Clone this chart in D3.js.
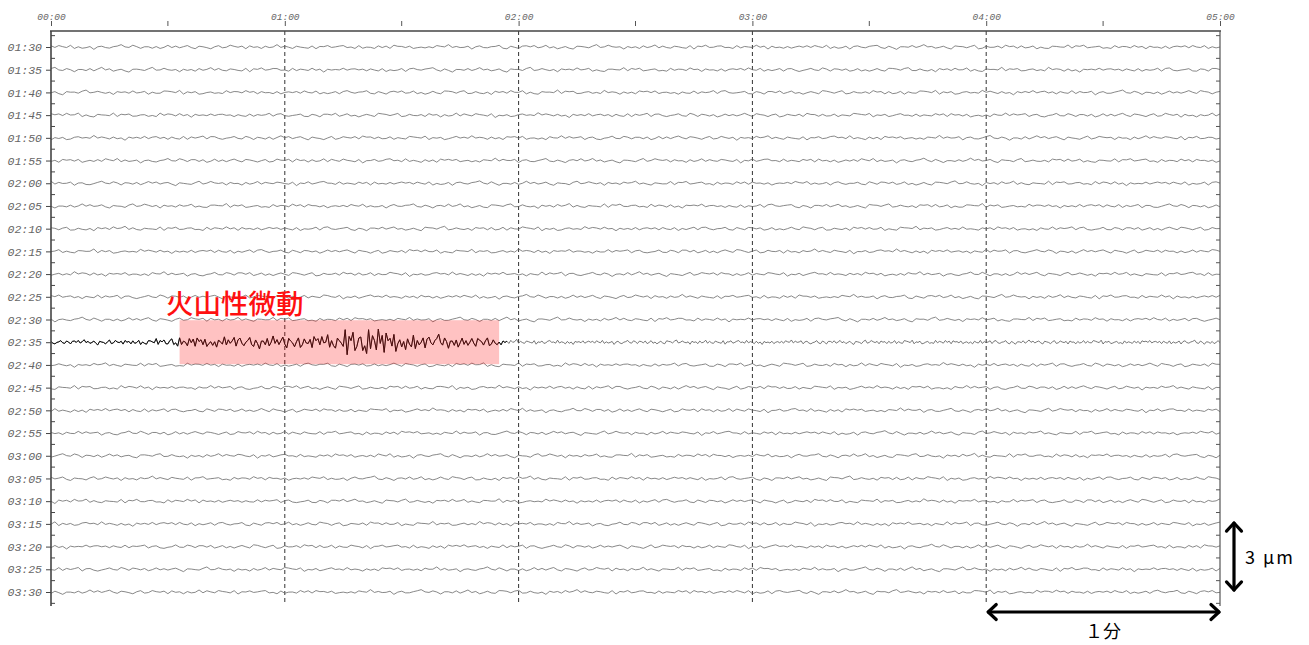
<!DOCTYPE html>
<html><head><meta charset="utf-8">
<script src="https://cdn.jsdelivr.net/npm/d3@7"></script>
<style>
html,body{margin:0;padding:0;background:#fff;}
svg{display:block;}
</style></head>
<body>
<svg id="chart" width="1309" height="645"></svg>
<script>
// ---- data ----
const rowLabels = ["01:30","01:35","01:40","01:45","01:50","01:55","02:00","02:05","02:10","02:15","02:20","02:25","02:30","02:35","02:40","02:45","02:50","02:55","03:00","03:05","03:10","03:15","03:20","03:25","03:30"];
const minuteTicks = [0,60,120,180,240,300];      // seconds
const minuteLabels = ["00:00","01:00","02:00","03:00","04:00","05:00"];
const halfTicks = [30,90,150,210,270];
const tremorRow = "02:35";
// hand-read wiggle patterns (units of noiseUnit μm)
const wiggleA = [1,-2,2,0,-1,3,-2,1,-1,0,2,-3,1,2,-1,-2,0,1,3,-1,-2,2,0,-3,1,1,-1,2,-2,0,3,-1,1,-2,0,2,-1,-3,2,1,0,-2,1,3,-2,-1,2,0,-1,1,-3,2,0,1,-2,2,-1,0,3,-2,1,-1,-2,2,1,0,-1,3,-3,1,0,2,-2,-1,1,2,-1,0,-2,3,-1,1,0,-2,2,-1,1,-3,2,0,1,-1,2,-2,0,1,-1];
const wiggleB = [2,1,0,-1,-2,-2,-1,0,1,2,2,1,-1,-2,-1,0,1,1,0,-1,-2,-1,1,2,1,0,-1,-1,0,2,1,-1,-2,-2,0,1,2,1,0,-1,-2,-1,0,1,2,0,-1,-2,-1,1,2,2,0,-1,-1,0,1,0,-2,-1,1];
const noiseUnit = 0.025; // μm
// tremor envelope, half amplitude in μm, per 5 s bin (0..300 s)
const tremorEnvelope = [0.1,0.11,0.12,0.12,0.14,0.16,0.28,0.3,0.3,0.29,0.3,0.31,0.32,0.34,0.42,0.7,0.8,0.65,0.45,0.36,0.3,0.26,0.24,0.13,0.1,0.1,0.1,0.1,0.1,0.1,0.1,0.1,0.1,0.1,0.1,0.1,0.1,0.1,0.1,0.1,0.1,0.1,0.1,0.1,0.1,0.1,0.1,0.1,0.1,0.1,0.1,0.1,0.1,0.1,0.1,0.1,0.1,0.1,0.1,0.1];
const tremorBox = {t0:33, t1:115};      // seconds
const tremorDarkEnd = 117;               // trace drawn dark up to here (s)
const tremorLabel = "火山性微動";
const scaleAmp = 3;  // μm
const scaleTimeLabel = "１分";
const scaleAmpLabel = "3 μm";

// ---- scales ----
const svg = d3.select("#chart");
const x = d3.scaleLinear().domain([0,300]).range([51,1220]);
const row = d3.scalePoint().domain(rowLabels).range([47,592]);
const amp = d3.scaleLinear().domain([0,3]).range([0,67]);
const step = row.step();

// traces
function traceData(r, label){
  const pts = [];
  if(label === tremorRow){
    for(let i=0;i<=600;i++){
      const t = i/2;
      const e = tremorEnvelope[Math.min(59,Math.floor(t/5))];
      const v = (wiggleA[(i+13)%wiggleA.length]/3*0.8 + wiggleB[(Math.floor(i/3)+5)%wiggleB.length]/2*0.2) * e;
      pts.push([t,v]);
    }
  } else {
    for(let i=0;i<=300;i++){
      const v = (wiggleA[(i+17*r)%wiggleA.length] + 0.6*wiggleB[(Math.floor(i/2)+23*r)%wiggleB.length]) * noiseUnit;
      pts.push([i,v]);
    }
  }
  return pts;
}

const grid = svg.append("g");
// dashed minute lines
grid.selectAll("line.dash").data(minuteTicks.slice(1,-1)).join("line")
  .attr("x1",d=>x(d)).attr("x2",d=>x(d)).attr("y1",31).attr("y2",605)
  .attr("stroke","#333").attr("stroke-width",1).attr("stroke-dasharray","4,3");

// traces
const line = d3.line().x(d=>x(d[0]));
svg.append("g").selectAll("path").data(rowLabels).join("path")
  .attr("d",(l,r)=>line.y(d=>row(l)-amp(d[1]))(traceData(r,l)))
  .attr("fill","none")
  .attr("stroke",l=>l===tremorRow?"#555":"#6a6a6a")
  .attr("stroke-width",0.8);
// dark part of tremor trace
const tIdx = rowLabels.indexOf(tremorRow);
svg.append("path")
  .attr("d",line.y(d=>row(tremorRow)-amp(d[1]))(traceData(tIdx,tremorRow).filter(d=>d[0]<=tremorDarkEnd)))
  .attr("fill","none").attr("stroke","#111").attr("stroke-width",1);

// tremor box (translucent)
svg.append("rect")
  .attr("x",x(tremorBox.t0)).attr("width",x(tremorBox.t1)-x(tremorBox.t0))
  .attr("y",row(tremorRow)-22).attr("height",44)
  .attr("fill","rgb(255,0,0)").attr("fill-opacity",0.24);
svg.append("text").attr("x",166).attr("y",314)
  .attr("font-family","'Noto Sans CJK JP'").attr("font-size",27.5).attr("font-weight",500)
  .attr("fill","#ff1010").text(tremorLabel);

// frame
svg.append("line").attr("x1",50).attr("x2",1221).attr("y1",31).attr("y2",31).attr("stroke","#444").attr("stroke-width",1.6);
svg.append("line").attr("x1",51).attr("x2",51).attr("y1",31).attr("y2",606).attr("stroke","#444").attr("stroke-width",1.6);
svg.append("line").attr("x1",1220).attr("x2",1220).attr("y1",31).attr("y2",606).attr("stroke","#555").attr("stroke-width",1.2);

// top axis
const topAxis = svg.append("g").attr("transform","translate(0,26)")
  .call(d3.axisTop(x).tickValues(minuteTicks).tickSize(5).tickFormat((d,i)=>minuteLabels[i]));
topAxis.select(".domain").remove();
topAxis.selectAll(".tick line").attr("stroke","#555");
topAxis.selectAll(".tick text").attr("y",-6).attr("font-family","'Liberation Mono', monospace").attr("font-style","italic").attr("font-size",9.5).attr("fill","#666");
svg.append("g").selectAll("line").data(halfTicks).join("line")
  .attr("x1",d=>x(d)).attr("x2",d=>x(d)).attr("y1",21).attr("y2",26).attr("stroke","#555");

// left axis
const leftAxis = svg.append("g").attr("transform","translate(51,0)")
  .call(d3.axisLeft(row).tickSize(5).tickPadding(4));
leftAxis.select(".domain").remove();
leftAxis.selectAll(".tick line").attr("stroke","#444");
leftAxis.selectAll(".tick text").attr("font-family","'Liberation Mono', monospace").attr("font-style","italic").attr("font-size",11.5).attr("fill","#666");
const mids = rowLabels.map(l=>row(l)-step/2).concat([row(rowLabels[rowLabels.length-1])+step/2]);
svg.append("g").selectAll("line").data(mids).join("line")
  .attr("x1",51).attr("x2",55).attr("y1",d=>d).attr("y2",d=>d).attr("stroke","#444");
svg.append("g").selectAll("line").data(mids).join("line")
  .attr("x1",1216).attr("x2",1220).attr("y1",d=>d).attr("y2",d=>d).attr("stroke","#555");

// scale arrows
function arrow(x1,y1,x2,y2){
  const g = svg.append("g").attr("stroke","#000").attr("stroke-width",3.2).attr("fill","none").attr("stroke-linecap","round").attr("stroke-linejoin","round");
  g.append("line").attr("x1",x1).attr("y1",y1).attr("x2",x2).attr("y2",y2);
  const ang = Math.atan2(y2-y1,x2-x1), h=11, w=0.75;
  [[x1,y1,ang+Math.PI],[x2,y2,ang]].forEach(([px,py,a])=>{
    g.append("path").attr("d",`M${px-h*Math.cos(a-w)},${py-h*Math.sin(a-w)}L${px},${py}L${px-h*Math.cos(a+w)},${py-h*Math.sin(a+w)}`);
  });
}
const ampBottom = 590;
arrow(1234, ampBottom-amp(scaleAmp), 1234, ampBottom);
arrow(x(240)+2, 612, x(300)-1, 612);
svg.append("text").attr("x",1245).attr("y",564).attr("font-family","'Noto Sans CJK JP'").attr("font-size",18).attr("letter-spacing",2).attr("fill","#000").text(scaleAmpLabel);
svg.append("text").attr("x",x(270)).attr("y",638).attr("text-anchor","middle").attr("font-family","'Noto Sans CJK JP'").attr("font-size",18).attr("fill","#000").text(scaleTimeLabel);
</script>
</body></html>
